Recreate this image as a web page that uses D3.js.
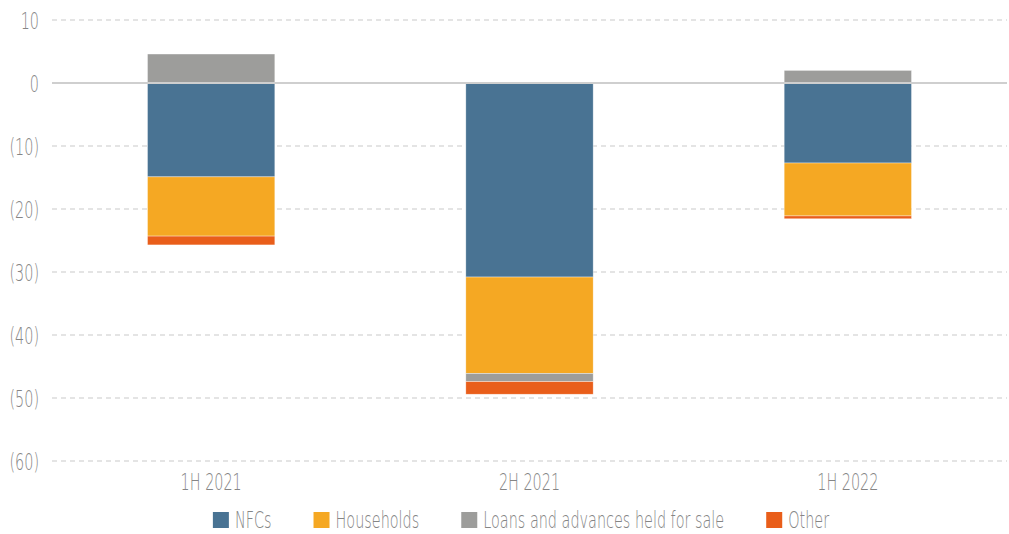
<!DOCTYPE html>
<html>
<head>
<meta charset="utf-8">
<script src="https://cdn.jsdelivr.net/npm/d3@7"></script>
<style>
  body { margin: 0; background: #fff; }
  text { font-family: "DejaVu Sans ExtraLight", "DejaVu Sans", sans-serif; font-weight: 200; fill: #858585; }
</style>
</head>
<body>
<div id="app"></div>
<script>
// data
const periods = ["1H 2021", "2H 2021", "1H 2022"];
const seriesNames = ["NFCs", "Households", "Loans and advances held for sale", "Other"];
const nfcs = [-14.9, -30.8, -12.7];
const households = [-9.4, -15.3, -8.4];
const loansHeld = [4.6, -1.3, 2.0];
const other = [-1.4, -2.0, -0.45];
const yTicks = [10, 0, -10, -20, -30, -40, -50, -60];
const colors = ["#497393", "#f5a823", "#9d9d9b", "#e95e1a"];

// sizing
const width = 1009;
const height = 534;
const fontSize = 23;

const svg = d3.select("#app")
  .append("svg")
    .attr("width", width)
    .attr("height", height);

// font is too wide, squeeze it horizontally to look condensed
const probe = svg.append("text").style("font-size", fontSize + "px").text("Loans and advances held for sale");
const sx = 241 / probe.node().getComputedTextLength();
probe.remove();

function label(g, tx, ty, anchor, txt) {
  return g.append("text")
    .attr("transform", `translate(${tx},${ty}) scale(${sx},1)`)
    .attr("text-anchor", anchor)
    .style("font-size", fontSize + "px")
    .text(txt);
}

const rows = periods.map((p, i) => ({
  period: p,
  "NFCs": nfcs[i],
  "Households": households[i],
  "Loans and advances held for sale": loansHeld[i],
  "Other": other[i]
}));

const stacked = d3.stack()
  .keys(seriesNames)
  .offset(d3.stackOffsetDiverging)(rows);

// x
const x = d3.scaleBand()
  .domain(periods)
  .range([52, 1007])
  .paddingInner(0.6)
  .paddingOuter(0.3);

// y
const y = d3.scaleLinear()
  .domain([-60, 10])
  .range([461, 20]);

// grid
svg.append("g")
  .selectAll("line")
  .data(yTicks.filter(d => d !== 0))
  .enter().append("line")
    .attr("x1", 52)
    .attr("x2", 1007)
    .attr("y1", d => y(d))
    .attr("y2", d => y(d))
    .attr("stroke", "#c9c9c9")
    .attr("stroke-width", 1)
    .attr("stroke-dasharray", "5,4");

// y labels
const yl = svg.append("g");
yTicks.forEach(d => {
  label(yl, 39, y(d) + 8.5, "end", d < 0 ? "(" + (-d) + ")" : d);
});

// bars
svg.append("g")
  .selectAll("g")
  .data(stacked)
  .enter().append("g")
    .attr("fill", (d, i) => colors[i])
  .selectAll("rect")
  .data(d => d)
  .enter().append("rect")
    .attr("x", d => x(d.data.period))
    .attr("y", d => y(Math.max(d[0], d[1])))
    .attr("width", x.bandwidth())
    .attr("height", d => Math.abs(y(d[0]) - y(d[1])))
    .attr("stroke", "#fff")
    .attr("stroke-opacity", 0.6)
    .attr("stroke-width", 0.6);

// zero line
svg.append("line")
  .attr("x1", 52)
  .attr("x2", 1007)
  .attr("y1", y(0))
  .attr("y2", y(0))
  .attr("stroke", "#cfcfcf")
  .attr("stroke-width", 2);

// x labels
const xl = svg.append("g");
periods.forEach(d => {
  label(xl, x(d) + x.bandwidth() / 2, 490, "middle", d);
});

// legend
const legend = svg.append("g");
let offset = 0;
const items = [];
seriesNames.forEach((name, i) => {
  const g = legend.append("g");
  g.append("rect")
    .attr("width", 16)
    .attr("height", 16)
    .attr("y", 512)
    .attr("fill", colors[i]);
  const t = label(g, 22, 528, "start", name);
  const w = t.node().getComputedTextLength() * sx;
  items.push({g: g, pos: offset});
  offset += 22 + w + 42;
});
const totalW = offset - 42;
const startX = 521 - totalW / 2;
items.forEach(it => it.g.attr("transform", `translate(${startX + it.pos},0)`));
</script>
</body>
</html>
